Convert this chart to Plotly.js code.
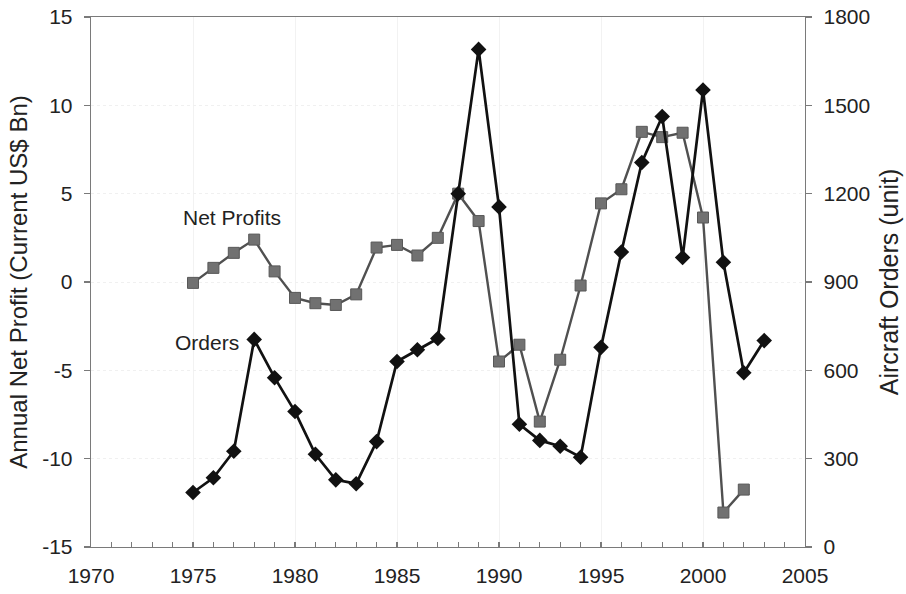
<!DOCTYPE html>
<html>
<head>
<meta charset="utf-8">
<script src="https://cdn.plot.ly/plotly-3.0.1.min.js"></script>
<style>html,body{margin:0;padding:0;background:#fff;}#chart{width:906px;height:594px;}</style>
</head>
<body>
<div id="chart"></div>
<script>
const years = [1975,1976,1977,1978,1979,1980,1981,1982,1983,1984,1985,1986,1987,1988,1989,1990,1991,1992,1993,1994,1995,1996,1997,1998,1999,2000,2001,2002,2003];
const netProfit = [-0.05,0.8,1.65,2.4,0.6,-0.9,-1.2,-1.3,-0.7,1.95,2.1,1.5,2.5,5.0,3.45,-4.5,-3.55,-7.9,-4.4,-0.2,4.45,5.25,8.5,8.2,8.45,3.65,-13.05,-11.75,null];
const orders = [185,235,325,705,575,460,315,228,215,358,630,670,708,1200,1690,1155,417,362,342,305,678,1002,1306,1462,983,1552,967,592,701];
const leftTicks = [-15,-10,-5,0,5,10,15];
const rightTicks = [0,300,600,900,1200,1500,1800];
const xTicks = [1970,1975,1980,1985,1990,1995,2000,2005];

const font = 'Liberation Sans, Arial, sans-serif';
const axisCol = '#7a7a7a';

const traces = [
  {
    x: years, y: netProfit, name: 'Net Profits', type: 'scatter', mode: 'lines+markers',
    yaxis: 'y', connectgaps: false,
    line: {color: '#505050', width: 2.4},
    marker: {symbol: 'square', size: 11, color: '#717171', line: {color: '#585858', width: 1}}
  },
  {
    x: years, y: orders, name: 'Orders', type: 'scatter', mode: 'lines+markers',
    yaxis: 'y2',
    line: {color: '#111111', width: 2.7},
    marker: {symbol: 'diamond', size: 12, color: '#111111'}
  }
];

const layout = {
  width: 906, height: 594,
  margin: {l: 91, r: 101, t: 17, b: 47},
  paper_bgcolor: '#ffffff', plot_bgcolor: '#ffffff',
  showlegend: false,
  font: {family: font, size: 21, color: '#222222'},
  xaxis: {
    range: [1970, 2005], tickvals: xTicks, ticktext: xTicks.map(String),
    showline: true, linecolor: axisCol, linewidth: 1.3, mirror: true,
    ticks: 'inside', ticklen: 5, tickcolor: axisCol, tickwidth: 1.3,
    minor: {dtick: 1, tick0: 1970, ticks: 'inside', ticklen: 5, tickcolor: axisCol, tickwidth: 1.2, showgrid: false},
    showgrid: true, gridcolor: '#f2f2f2', gridwidth: 1,
    zeroline: false, ticklabelstandoff: 9,
    tickfont: {size: 21}
  },
  yaxis: {
    range: [-15, 15], tickvals: leftTicks, ticktext: leftTicks.map(String),
    showline: true, linecolor: axisCol, linewidth: 1.3,
    ticks: 'outside', ticklen: 6, tickcolor: axisCol, tickwidth: 1.3,
    showgrid: true, gridcolor: '#f0f0f0', griddash: 'dot', zeroline: false,
    ticklabelstandoff: 7,
    title: {text: 'Annual Net Profit (Current US$ Bn)', font: {size: 24}, standoff: 7},
    tickfont: {size: 21}
  },
  yaxis2: {
    range: [0, 1800], tickvals: rightTicks, ticktext: rightTicks.map(String),
    overlaying: 'y', side: 'right',
    showline: true, linecolor: axisCol, linewidth: 1.3,
    ticks: 'outside', ticklen: 6, tickcolor: axisCol, tickwidth: 1.3,
    showgrid: false, zeroline: false,
    ticklabelstandoff: 7,
    title: {text: 'Aircraft Orders (unit)', font: {size: 25}, standoff: 11},
    tickfont: {size: 21}
  },
  annotations: [
    {x: 1976.9, y: 3.65, xref: 'x', yref: 'y', text: 'Net Profits', showarrow: false, font: {size: 21, color: '#222222'}},
    {x: 1975.7, y: -3.4, xref: 'x', yref: 'y', text: 'Orders', showarrow: false, font: {size: 21, color: '#222222'}}
  ]
};

Plotly.newPlot('chart', traces, layout, {displayModeBar: false, staticPlot: true});
</script>
</body>
</html>
